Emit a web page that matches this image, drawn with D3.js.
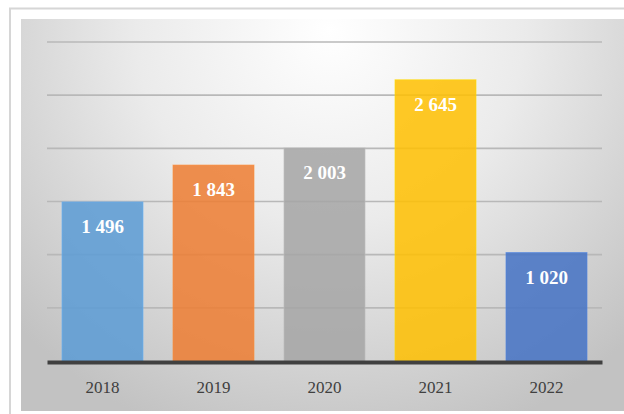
<!DOCTYPE html>
<html>
<head>
<meta charset="utf-8">
<script src="https://cdn.jsdelivr.net/npm/d3@7"></script>
<style>
  html, body { margin: 0; padding: 0; background: #fff; overflow: hidden; }
</style>
</head>
<body>
<div id="chart"></div>
<script>
// chart data
const years = ["2018", "2019", "2020", "2021", "2022"];
const values = [1496, 1843, 2003, 2645, 1020];
const valueLabels = ["1 496", "1 843", "2 003", "2 645", "1 020"];
const barColors = ["#5b9bd5", "#ed7d31", "#a5a5a5", "#ffc000", "#4472c4"];
const gridTicks = [500, 1000, 1500, 2000, 2500, 3000];

const W = 624, H = 414;

const svg = d3
  .select("#chart")
  .append("svg")
  .attr("width", W)
  .attr("height", H);

// background gradient of the plot area
const defs = svg.append("defs");
const grad = defs
  .append("radialGradient")
  .attr("id", "bg")
  .attr("gradientUnits", "userSpaceOnUse")
  .attr("cx", 330)
  .attr("cy", 30)
  .attr("r", 430);
grad.append("stop").attr("offset", "0%").attr("stop-color", "#ffffff");
grad.append("stop").attr("offset", "45%").attr("stop-color", "#ebebeb");
grad.append("stop").attr("offset", "100%").attr("stop-color", "#c2c2c2");

// heading above the chart, cut off by the top edge in the original
svg
  .append("text")
  .attr("x", 16)
  .attr("y", -3)
  .style("font-family", "Liberation Serif")
  .style("font-size", "15px")
  .style("fill", "#1fa3dc")
  .text("Wykres przedstawiający liczbę zgłoszeń w kolejnych latach");

// outer frame
svg
  .append("rect")
  .attr("x", 10)
  .attr("y", 8.5)
  .attr("width", W)
  .attr("height", H)
  .attr("fill", "#fff")
  .attr("stroke", "#d6d6d6")
  .attr("stroke-width", 2);

svg
  .append("rect")
  .attr("x", 21)
  .attr("y", 19)
  .attr("width", W - 21)
  .attr("height", 392)
  .attr("fill", "url(#bg)");

// scales
const x = d3
  .scaleBand()
  .domain(years)
  .range([47, 602])
  .paddingInner(0.27)
  .paddingOuter(0.135);

const y = d3.scaleLinear().domain([0, 3000]).range([361, 42]);

// gridlines
svg
  .append("g")
  .selectAll("line")
  .data(gridTicks)
  .join("line")
  .attr("x1", 47)
  .attr("x2", 602)
  .attr("y1", (d) => y(d))
  .attr("y2", (d) => y(d))
  .attr("stroke", "#b8b8b8")
  .attr("stroke-width", 1.6);

// bars
svg
  .append("g")
  .selectAll("rect")
  .data(values)
  .join("rect")
  .attr("x", (d, i) => x(years[i]))
  .attr("y", (d) => y(d))
  .attr("width", x.bandwidth())
  .attr("height", (d) => y(0) - y(d))
  .attr("fill", (d, i) => barColors[i])
  .attr("fill-opacity", 0.85)
  .attr("stroke", (d, i) => d3.color(barColors[i]).brighter(0.4))
  .attr("stroke-opacity", 0.6)
  .attr("stroke-width", 1);

// value labels
svg
  .append("g")
  .selectAll("text")
  .data(values)
  .join("text")
  .attr("x", (d, i) => x(years[i]) + x.bandwidth() / 2)
  .attr("y", (d) => y(d) + 31)
  .attr("text-anchor", "middle")
  .style("font-family", "Liberation Serif")
  .style("font-weight", "bold")
  .style("font-size", "19px")
  .style("fill", "#ffffff")
  .text((d, i) => valueLabels[i]);

// x axis
const xAxis = svg
  .append("g")
  .attr("transform", `translate(0, ${y(0) + 1})`)
  .call(d3.axisBottom(x).tickSize(0).tickPadding(19));
xAxis.select(".domain").attr("stroke", "#404040").attr("stroke-width", 4);
xAxis
  .selectAll("text")
  .style("font-family", "Liberation Serif")
  .style("font-size", "17px")
  .style("fill", "#404040");
</script>
</body>
</html>
